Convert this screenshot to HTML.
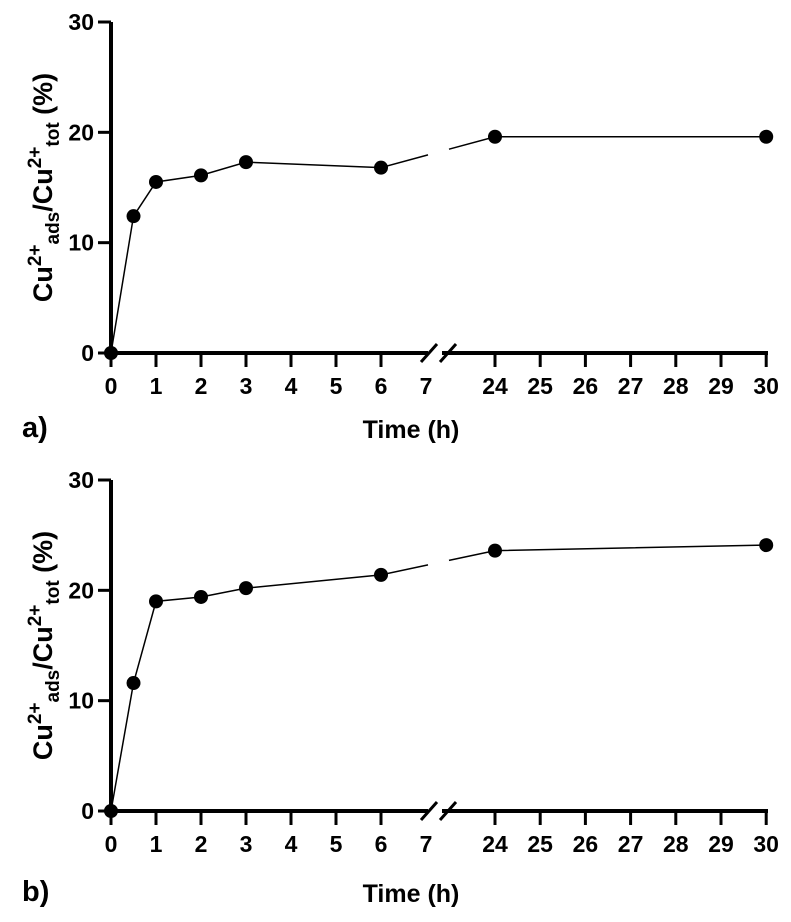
<!DOCTYPE html>
<html><head><meta charset="utf-8"><style>
html,body{margin:0;padding:0;background:#fff;}
svg{display:block;font-family:"Liberation Sans",Arial,sans-serif;font-weight:bold;}
</style></head><body>
<svg id="chart" width="791" height="922" viewBox="0 0 791 922"></svg>
<script>
const xTicksLeft = [0,1,2,3,4,5,6,7];
const xTicksRight = [24,25,26,27,28,29,30];
const yTicks = [0,10,20,30];
const timesA = [0,0.5,1,2,3,6,24,30];
const valuesA = [0,12.4,15.5,16.1,17.3,16.8,19.6,19.6];
const timesB = [0,0.5,1,2,3,6,24,30];
const valuesB = [0,11.6,19.0,19.4,20.2,21.4,23.6,24.1];

const NS="http://www.w3.org/2000/svg";
const svg=document.getElementById('chart');
function mk(tag,attrs,parent){const e=document.createElementNS(NS,tag);for(const k in attrs)e.setAttribute(k,attrs[k]);(parent||svg).appendChild(e);return e;}

function xScale(t){ return t<=7 ? 111+45*t : 495+45.2*(t-24); }

function panel(id,y0,y30,times,vals,label,titleY){
  const g=mk('g',{});
  
  
  const ys=v=>y0-(y0-y30)*v/30;
  const ya=mk('line',{x1:111,y1:y30,x2:111,y2:y0,stroke:'#000','stroke-width':4},g);
  
  
  yTicks.forEach(v=>{
    mk('line',{x1:98,y1:ys(v),x2:111,y2:ys(v),stroke:'#000','stroke-width':3},g);
    const t=mk('text',{x:94,y:ys(v)+8,'text-anchor':'end','font-size':23},g);
    t.textContent=v;
    
    
  });
  const xa1=mk('line',{x1:109,y1:y0,x2:428,y2:y0,stroke:'#000','stroke-width':4},g);
  
  
  const xa2=mk('line',{x1:442,y1:y0,x2:768,y2:y0,stroke:'#000','stroke-width':4},g);
  
  
  mk('line',{x1:421,y1:y0+9,x2:437,y2:y0-9,stroke:'#000','stroke-width':3},g);
  mk('line',{x1:440,y1:y0+9,x2:456,y2:y0-9,stroke:'#000','stroke-width':3},g);
  xTicksLeft.concat(xTicksRight).forEach(v=>{
    const x=xScale(v);
    if(v!==7) mk('line',{x1:x,y1:y0,x2:x,y2:y0+14,stroke:'#000','stroke-width':3},g);
    const t=mk('text',{x:x,y:y0+41,'text-anchor':'middle','font-size':23},g);
    t.textContent=v;
    
    
  });
  let pre='',post='';
  for(let i=0;i<times.length;i++){
    const x=xScale(times[i]),y=ys(vals[i]);
    if(times[i]<=7) pre+=(pre?'L':'M')+x+' '+y;
    else post+=(post?'L':'M')+x+' '+y;
  }
  const iA=times.findIndex(t=>t>7)-1, iB=iA+1;
  const xa=xScale(times[iA]),ya_=ys(vals[iA]),xb=xScale(times[iB]),yb=ys(vals[iB]);
  const interp=x=>ya_+(yb-ya_)*(x-xa)/(xb-xa);
  pre+='L428 '+interp(428);
  post='M449 '+interp(449)+'L'+post.slice(1);
  const l1=mk('path',{d:pre,fill:'none',stroke:'#000','stroke-width':1.5},g);
  
  
  const l2=mk('path',{d:post,fill:'none',stroke:'#000','stroke-width':1.5},g);
  
  
  for(let i=0;i<times.length;i++){
    const c=mk('circle',{cx:xScale(times[i]),cy:ys(vals[i]),r:7,fill:'#000'},g);
    
    
  }
  const xt=mk('text',{x:411,y:titleY,'text-anchor':'middle','font-size':25},g);
  xt.textContent='Time (h)';
  
  
  const pl=mk('text',{x:22,y:titleY-1,'font-size':29},g);
  pl.textContent=label;
  
  
  const cy=(y0+y30)/2;
  const yt=mk('text',{x:0,y:0,'text-anchor':'middle','font-size':27,transform:'translate(52,'+cy+') rotate(-90)'},g);
  yt.innerHTML='Cu<tspan dy="-11" font-size="19">2+</tspan><tspan dy="18" font-size="19">ads</tspan><tspan dy="-7">/Cu</tspan><tspan dy="-11" font-size="19">2+</tspan><tspan dy="18" font-size="19">tot</tspan><tspan dy="-7"> (%)</tspan>';
  
  
}
panel('a',353,22,timesA,valuesA,'a)',438);
panel('b',811,480,timesB,valuesB,'b)',902);
</script>
</body></html>
